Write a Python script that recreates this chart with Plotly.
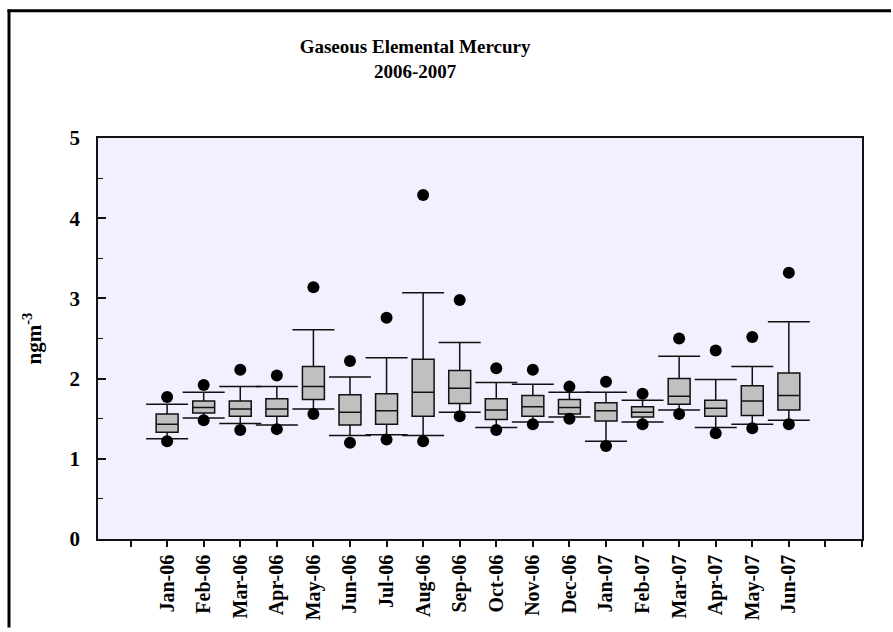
import plotly.graph_objects as go

# Monthly gaseous elemental mercury statistics (ng m-3)
months = ["Jan-06", "Feb-06", "Mar-06", "Apr-06", "May-06", "Jun-06", "Jul-06",
          "Aug-06", "Sep-06", "Oct-06", "Nov-06", "Dec-06", "Jan-07", "Feb-07",
          "Mar-07", "Apr-07", "May-07", "Jun-07"]
p05 = [1.22, 1.48, 1.36, 1.37, 1.56, 1.20, 1.24, 1.22, 1.53, 1.36, 1.43, 1.50,
       1.16, 1.43, 1.56, 1.32, 1.38, 1.43]
p10 = [1.25, 1.51, 1.44, 1.42, 1.62, 1.29, 1.30, 1.29, 1.58, 1.39, 1.46, 1.52,
       1.22, 1.46, 1.61, 1.39, 1.43, 1.48]
q1 = [1.33, 1.57, 1.53, 1.53, 1.74, 1.42, 1.43, 1.53, 1.69, 1.49, 1.53, 1.56,
      1.47, 1.52, 1.68, 1.53, 1.54, 1.61]
median = [1.43, 1.64, 1.62, 1.62, 1.90, 1.58, 1.60, 1.83, 1.88, 1.61, 1.65, 1.64,
          1.60, 1.58, 1.78, 1.63, 1.72, 1.79]
q3 = [1.56, 1.72, 1.72, 1.75, 2.15, 1.80, 1.81, 2.24, 2.10, 1.75, 1.79, 1.74,
      1.70, 1.65, 2.00, 1.73, 1.91, 2.07]
p90 = [1.68, 1.83, 1.90, 1.90, 2.61, 2.02, 2.26, 3.07, 2.45, 1.95, 1.93, 1.83,
       1.83, 1.73, 2.28, 1.99, 2.15, 2.71]
p95 = [1.77, 1.92, 2.11, 2.04, 3.14, 2.22, 2.76, 4.29, 2.98, 2.13, 2.11, 1.90,
       1.96, 1.81, 2.50, 2.35, 2.52, 3.32]

pos = list(range(1, len(months) + 1))
serif = "Liberation Serif, Times New Roman, serif"
ink = "#111111"

W, H = 893, 632
ML, MR, MT, MB = 98, 31, 138, 91
PW, PH = W - ML - MR, H - MT - MB

fig = go.Figure()

# boxes with 10th/90th percentile whiskers
fig.add_trace(go.Box(
    x=pos, q1=q1, median=median, q3=q3, lowerfence=p10, upperfence=p90,
    width=0.6, whiskerwidth=0, boxpoints=False,
    fillcolor="#c0c0c0", line=dict(color=ink, width=1.5),
    hoverinfo="skip", showlegend=False,
))

# whisker caps
fig.add_trace(go.Scatter(
    x=pos + pos, y=p10 + p90, mode="markers",
    marker=dict(symbol="line-ew", size=30, line=dict(color=ink, width=1.5)),
    hoverinfo="skip", showlegend=False,
))

# 5th / 95th percentile points
fig.add_trace(go.Scatter(
    x=pos + pos, y=p05 + p95, mode="markers",
    marker=dict(symbol="circle", size=12, color="black"),
    hoverinfo="skip", showlegend=False,
))

# page frame: left and top edges
fx = (9 - ML) / PW
fy = (H - MB - 10) / PH
edge_x = (W - 2 - ML) / PW
edge_y = (-MB + 2) / PH

fig.update_layout(
    width=W, height=H,
    margin=dict(l=ML, r=MR, t=MT, b=MB),
    paper_bgcolor="white",
    plot_bgcolor="#f0f0ff",
    title=dict(
        text="Gaseous Elemental Mercury<br>2006-2007",
        font=dict(family=serif, size=19, color="black", weight="bold"),
        x=0.415, xref="paper", xanchor="center",
        y=1 - 53 / H, yref="container", yanchor="middle",
    ),
    xaxis=dict(
        range=[-0.89, 20.0],
        tickmode="array",
        tickvals=pos,
        ticktext=months,
        tickangle=-90,
        ticks="outside", ticklen=6, tickwidth=1.5, tickcolor=ink,
        minor=dict(tickmode="array", tickvals=[0, 19, 20],
                   ticks="outside", ticklen=6, tickwidth=1.5, tickcolor=ink,
                   showgrid=False),
        tickfont=dict(family=serif, size=20, color="black", weight="bold"),
        showgrid=False, zeroline=False,
        showline=True, linecolor=ink, linewidth=1.5, mirror=True,
    ),
    yaxis=dict(
        range=[0, 5],
        tickmode="array", tickvals=[0, 1, 2, 3, 4, 5],
        ticks="inside", ticklen=8, tickwidth=1.5, tickcolor=ink,
        ticklabelstandoff=12,
        minor=dict(tickmode="array", tickvals=[0.5, 1.5, 2.5, 3.5, 4.5],
                   ticks="inside", ticklen=5, tickwidth=1.2, tickcolor=ink,
                   showgrid=False),
        tickfont=dict(family=serif, size=21, color="black", weight="bold"),
        title=dict(text="ngm<sup>-3</sup>", standoff=22,
                   font=dict(family=serif, size=21, color="black", weight="bold")),
        showgrid=False, zeroline=False,
        showline=True, linecolor=ink, linewidth=1.5, mirror=True,
    ),
    shapes=[
        dict(type="line", xref="paper", yref="paper",
             x0=fx, x1=fx, y0=edge_y, y1=fy + 0.003,
             line=dict(color="black", width=3), layer="above"),
        dict(type="line", xref="paper", yref="paper",
             x0=fx - 0.002, x1=edge_x, y0=fy, y1=fy,
             line=dict(color="black", width=3), layer="above"),
    ],
)

fig.write_html("out.html")
